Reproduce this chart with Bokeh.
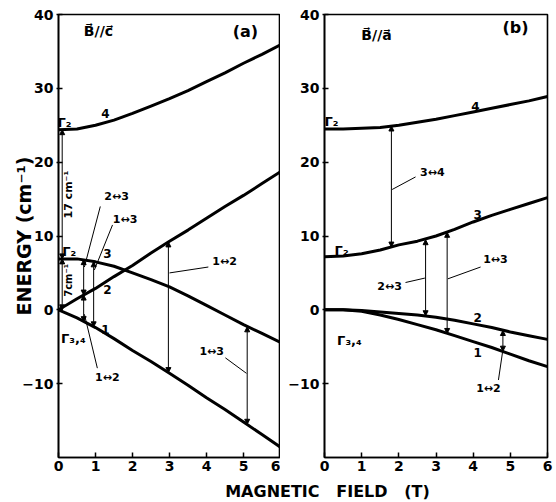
import math
from bokeh.plotting import figure
from bokeh.models import Range1d, FixedTicker, ColumnDataSource, Arrow, NormalHead, Label
from bokeh.layouts import column, row
from bokeh.embed import file_html
from bokeh.resources import INLINE
from bokeh.core.properties import value

FONT = "DejaVu Sans"

# ---------------- data ----------------
field = [0, 0.5, 1, 1.5, 2, 2.5, 3, 3.5, 4, 4.5, 5, 5.5, 6]

# panel (a): B // c
a_level1 = [0.0, -1.1, -2.4, -3.9, -5.5, -7.0, -8.6, -10.2, -11.9, -13.5, -15.2, -16.9, -18.6]
a_level2 = [0.0, 1.5, 2.9, 4.5, 6.0, 7.7, 9.3, 10.8, 12.4, 14.0, 15.5, 17.1, 18.7]
a_level3 = [6.9, 6.9, 6.5, 5.9, 5.0, 4.1, 3.1, 1.9, 0.6, -0.7, -2.0, -3.2, -4.4]
a_level4 = [24.4, 24.5, 25.0, 25.7, 26.6, 27.6, 28.6, 29.7, 30.9, 32.1, 33.4, 34.6, 35.9]

# panel (b): B // a
b_level1 = [0.0, 0.0, -0.2, -0.7, -1.3, -2.0, -2.7, -3.5, -4.3, -5.1, -6.0, -6.9, -7.7]
b_level2 = [0.0, 0.0, -0.1, -0.3, -0.5, -0.7, -1.0, -1.4, -1.9, -2.4, -3.0, -3.5, -4.0]
b_level3 = [7.2, 7.3, 7.6, 8.1, 8.8, 9.3, 10.0, 10.9, 11.9, 12.8, 13.6, 14.4, 15.2]
b_level4 = [24.5, 24.5, 24.6, 24.7, 25.0, 25.4, 25.8, 26.3, 26.8, 27.3, 27.8, 28.3, 28.9]

# transitions (field, lower energy, upper energy)
a_tr_field = [0.1, 0.1, 0.68, 0.68, 0.95, 2.97, 5.1]
a_tr_low = [0.0, 6.9, -1.6, 2.0, -2.3, -8.5, -15.5]
a_tr_high = [6.9, 24.4, 2.0, 6.8, 6.5, 9.2, -2.3]

b_tr_field = [1.8, 2.72, 3.3, 4.8]
b_tr_low = [8.5, -0.8, -3.2, -5.6]
b_tr_high = [24.9, 9.5, 10.5, -2.8]

x_ticks = [0, 1, 2, 3, 4, 5, 6]
y_ticks = [-10, 0, 10, 20, 30, 40]
x_lim = (0, 6)
y_lim = (-20, 40)

level_names = ["1", "2", "3", "4"]


def style(p):
    p.outline_line_color = "black"
    p.outline_line_width = 1.6
    p.outline_line_alpha = 1.0
    p.xgrid.visible = False
    p.ygrid.visible = False
    p.background_fill_color = "white"
    p.border_fill_color = "white"
    for ax in (p.xaxis[0], p.yaxis[0]):
        ax.axis_line_width = 1.6
        ax.major_label_text_font = FONT
        ax.major_label_text_font_style = "bold"
        ax.major_label_text_font_size = "14px"
        ax.major_label_text_color = "black"
        ax.minor_tick_line_color = None
        ax.major_tick_line_width = 1.5
    p.xaxis.ticker = FixedTicker(ticks=x_ticks)
    p.yaxis.ticker = FixedTicker(ticks=y_ticks)
    p.xaxis.major_tick_in = 5
    p.xaxis.major_tick_out = 0
    p.xaxis.major_label_standoff = 3
    p.yaxis.major_tick_in = 4
    p.yaxis.major_tick_out = 2
    p.yaxis.major_label_standoff = 3


def add_transitions(p, xs, lo, hi):
    src = ColumnDataSource(dict(x=xs, lo=lo, hi=hi))
    head = dict(size=5, fill_color="black", line_color="black", line_width=1)
    p.add_layout(Arrow(start=NormalHead(**head), end=NormalHead(**head),
                       x_start="x", y_start="lo", x_end="x", y_end="hi",
                       source=src, line_width=1, line_color="black"))


def txt(p, xs, ys, texts, size, angle=0.0, align="center"):
    p.text(x=xs, y=ys, text=texts, angle=angle, text_align=align,
           text_baseline="middle", text_font=value(FONT),
           text_font_style="bold", text_font_size=size, text_color="black")


# ---------------- panel (a) ----------------
pa = figure(width=280, height=478, x_range=Range1d(*x_lim), y_range=Range1d(*y_lim),
            output_backend="svg", toolbar_location=None,
            min_border_left=58, min_border_right=0, min_border_top=14, min_border_bottom=21)
style(pa)
pa.yaxis.axis_label = "ENERGY (cm⁻¹)"
pa.yaxis.axis_label_standoff = -16
pa.yaxis.axis_label_text_font = FONT
pa.yaxis.axis_label_text_font_style = "bold"
pa.yaxis.axis_label_text_font_size = "19px"
pa.yaxis.axis_label_text_color = "black"

for lv in (a_level1, a_level2, a_level3, a_level4):
    pa.line(field, lv, line_width=3, line_color="black")
add_transitions(pa, a_tr_field, a_tr_low, a_tr_high)

# leader lines (annotation positions)
pa.segment(x0=[1.13, 1.46, 1.05, 4.05, 4.51], y0=[14.0, 11.5, -7.9, 5.8, -6.5],
           x1=[0.70, 0.97, 0.70, 3.00, 5.08], y1=[5.8, 5.4, -0.6, 5.0, -8.6],
           line_width=1, line_color="black")
txt(pa, [1.57, 1.80, 1.32, 4.49, 4.14], [15.3, 12.2, -9.2, 6.5, -5.7],
    ["2↔3", "1↔3", "1↔2", "1↔2", "1↔3"], "11px")
txt(pa, [1.27, 1.32, 1.32, 1.27], [26.6, 7.6, 2.7, -2.7],
    [level_names[3], level_names[2], level_names[1], level_names[0]], "12px")
txt(pa, [0.16, 0.29, 0.40], [25.4, 7.9, -3.9], ["Γ₂", "Γ₂", "Γ₃,₄"], "13px")
txt(pa, [0.27], [15.6], ["17 cm⁻¹"], "11px", angle=math.pi / 2)
txt(pa, [0.26], [4.0], ["7cm⁻¹"], "10px", angle=math.pi / 2)
txt(pa, [1.08], [37.7], ["B⃗//c⃗"], "14px")
txt(pa, [5.05], [37.7], ["(a)"], "16px")

# ---------------- panel (b) ----------------
pb = figure(width=276, height=478, x_range=Range1d(*x_lim), y_range=Range1d(*y_lim),
            output_backend="svg", toolbar_location=None,
            min_border_left=44, min_border_right=9, min_border_top=14, min_border_bottom=21)
style(pb)
for lv in (b_level1, b_level2, b_level3, b_level4):
    pb.line(field, lv, line_width=3, line_color="black")
add_transitions(pb, b_tr_field, b_tr_low, b_tr_high)

pb.segment(x0=[2.45, 2.18, 4.20, 4.68], y0=[18.0, 3.7, 5.8, -9.5],
           x1=[1.82, 2.70, 3.32, 4.80], y1=[16.3, 4.3, 4.2, -5.4],
           line_width=1, line_color="black")
txt(pb, [2.90, 1.75, 4.60, 4.41], [18.6, 3.1, 6.8, -10.6],
    ["3↔4", "2↔3", "1↔3", "1↔2"], "11px")
txt(pb, [4.06, 4.12, 4.12, 4.12], [27.5, 12.9, -1.1, -5.8],
    [level_names[3], level_names[2], level_names[1], level_names[0]], "12px")
txt(pb, [0.19, 0.46, 0.67], [25.5, 8.1, -4.1], ["Γ₂", "Γ₂", "Γ₃,₄"], "13px")
txt(pb, [1.40], [37.2], ["B⃗//a⃗"], "14px")
txt(pb, [5.14], [38.2], ["(b)"], "16px")

# ---------------- common x-axis title ----------------
pc = figure(width=556, height=24, x_range=Range1d(0, 556), y_range=Range1d(0, 24),
            output_backend="svg", toolbar_location=None, min_border=0,
            x_axis_type=None, y_axis_type=None)
pc.outline_line_color = None
pc.grid.visible = False
pc.add_layout(Label(x=327, y=11, x_units="data", y_units="data",
                    text="MAGNETIC\u00a0\u00a0 FIELD\u00a0\u00a0 (T)",
                    text_align="center", text_baseline="middle",
                    text_font=FONT, text_font_style="bold", text_font_size="16px",
                    text_color="black"))

layout = column(row(pa, pb), pc)
open("out.html", "w").write(file_html(layout, INLINE))
